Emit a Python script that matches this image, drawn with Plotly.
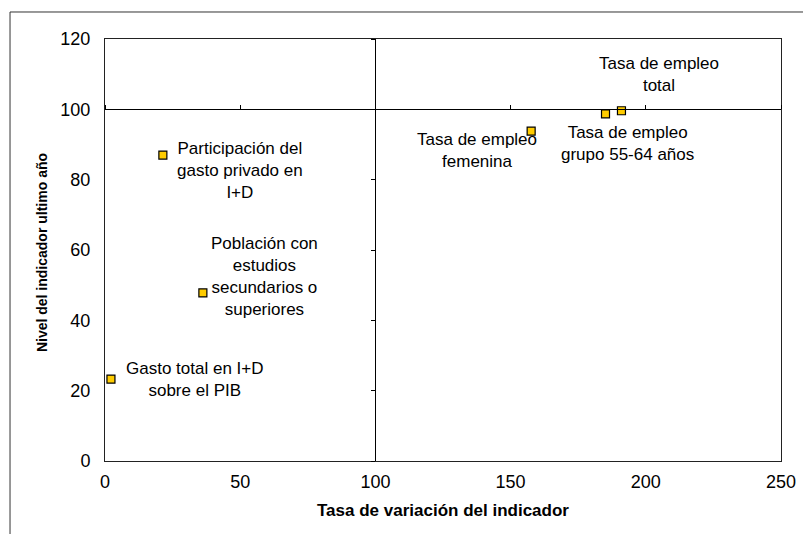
import plotly.graph_objects as go

# Data
indicadores = [
    "Gasto total en I+D<br>sobre el PIB",
    "Participación del<br>gasto privado en<br>I+D",
    "Población con<br>estudios<br>secundarios o<br>superiores",
    "Tasa de empleo<br>femenina",
    "Tasa de empleo<br>grupo 55-64 años",
    "Tasa de empleo<br>total",
]
tasa_variacion = [2.2, 21.4, 36.2, 157.6, 185.1, 191.0]
nivel_ultimo = [23.3, 87.0, 47.8, 93.8, 98.7, 99.6]
label_x = [33.2, 49.9, 59.1, 137.4, 193.1, 205.0]
label_y = [23.3, 82.7, 52.6, 88.4, 90.4, 110.0]

x_ticks = [0, 50, 100, 150, 200, 250]
y_ticks = [0, 20, 40, 60, 80, 100, 120]

FONT = "Liberation Sans, Arial, sans-serif"

fig = go.Figure()
fig.add_trace(go.Scatter(
    x=tasa_variacion, y=nivel_ultimo, mode="markers",
    marker=dict(symbol="square", size=8, color="#FFCC00",
                line=dict(color="black", width=1.2)),
    showlegend=False, hoverinfo="skip",
))

for t, lx, ly in zip(indicadores, label_x, label_y):
    fig.add_annotation(x=lx, y=ly, xref="x", yref="y", text=t, showarrow=False,
                       xanchor="center", yanchor="middle",
                       font=dict(family=FONT, size=17, color="black"), align="center")

# axis titles
fig.add_annotation(x=0.5, y=-0.118, xref="paper", yref="paper",
                   xanchor="center", yanchor="middle",
                   text="<b>Tasa de variación del indicador</b>", showarrow=False,
                   font=dict(family=FONT, size=17, color="black"))
fig.add_annotation(x=-0.0932, y=0.495, xref="paper", yref="paper",
                   xanchor="center", yanchor="middle",
                   text="<b>Nivel del indicador ultimo año</b>", showarrow=False,
                   textangle=-90, font=dict(family=FONT, size=14, color="black"))

# outer chart frame
fig.add_shape(type="path", xref="paper", yref="paper",
              path="M -0.1405 -0.3 L -0.1405 1.064 L 1.2 1.064",
              line=dict(color="#333333", width=1))

fig.update_layout(
    width=803, height=534,
    margin=dict(l=105, r=22, t=39, b=73, autoexpand=False),
    paper_bgcolor="white", plot_bgcolor="white",
    font=dict(family=FONT, size=16, color="black"),
    xaxis=dict(range=[0, 250], tickvals=x_ticks, ticks="", showgrid=False,
               zeroline=False, showline=True, mirror=True, linecolor="#222222",
               linewidth=1, ticklabelstandoff=4, automargin=False,
               tickfont=dict(family=FONT, size=18)),
    yaxis=dict(range=[0, 120], tickvals=y_ticks, ticks="", showgrid=False,
               zeroline=False, showline=True, mirror=True, linecolor="#222222",
               linewidth=1, ticklabelstandoff=10, automargin=False,
               tickfont=dict(family=FONT, size=18)),
    xaxis2=dict(range=[0, 250], tickvals=x_ticks, overlaying="x", anchor="free",
                position=100 / 120, side="top", ticks="outside", ticklen=4,
                tickcolor="black", showticklabels=False, showgrid=False,
                automargin=False,
                zeroline=False, showline=True, linecolor="black", linewidth=1),
    yaxis2=dict(range=[0, 120], tickvals=y_ticks, overlaying="y", anchor="free",
                position=100 / 250, side="left", ticks="outside", ticklen=4,
                tickcolor="black", showticklabels=False, showgrid=False,
                automargin=False,
                zeroline=False, showline=True, linecolor="black", linewidth=1),
)
# dummy trace to activate overlay axes
fig.add_trace(go.Scatter(x=[None], y=[None], xaxis="x2", yaxis="y2",
                         showlegend=False, hoverinfo="skip"))

fig.write_html("out.html", config={"displayModeBar": False},
               post_script="document.body.style.margin='0px';")
